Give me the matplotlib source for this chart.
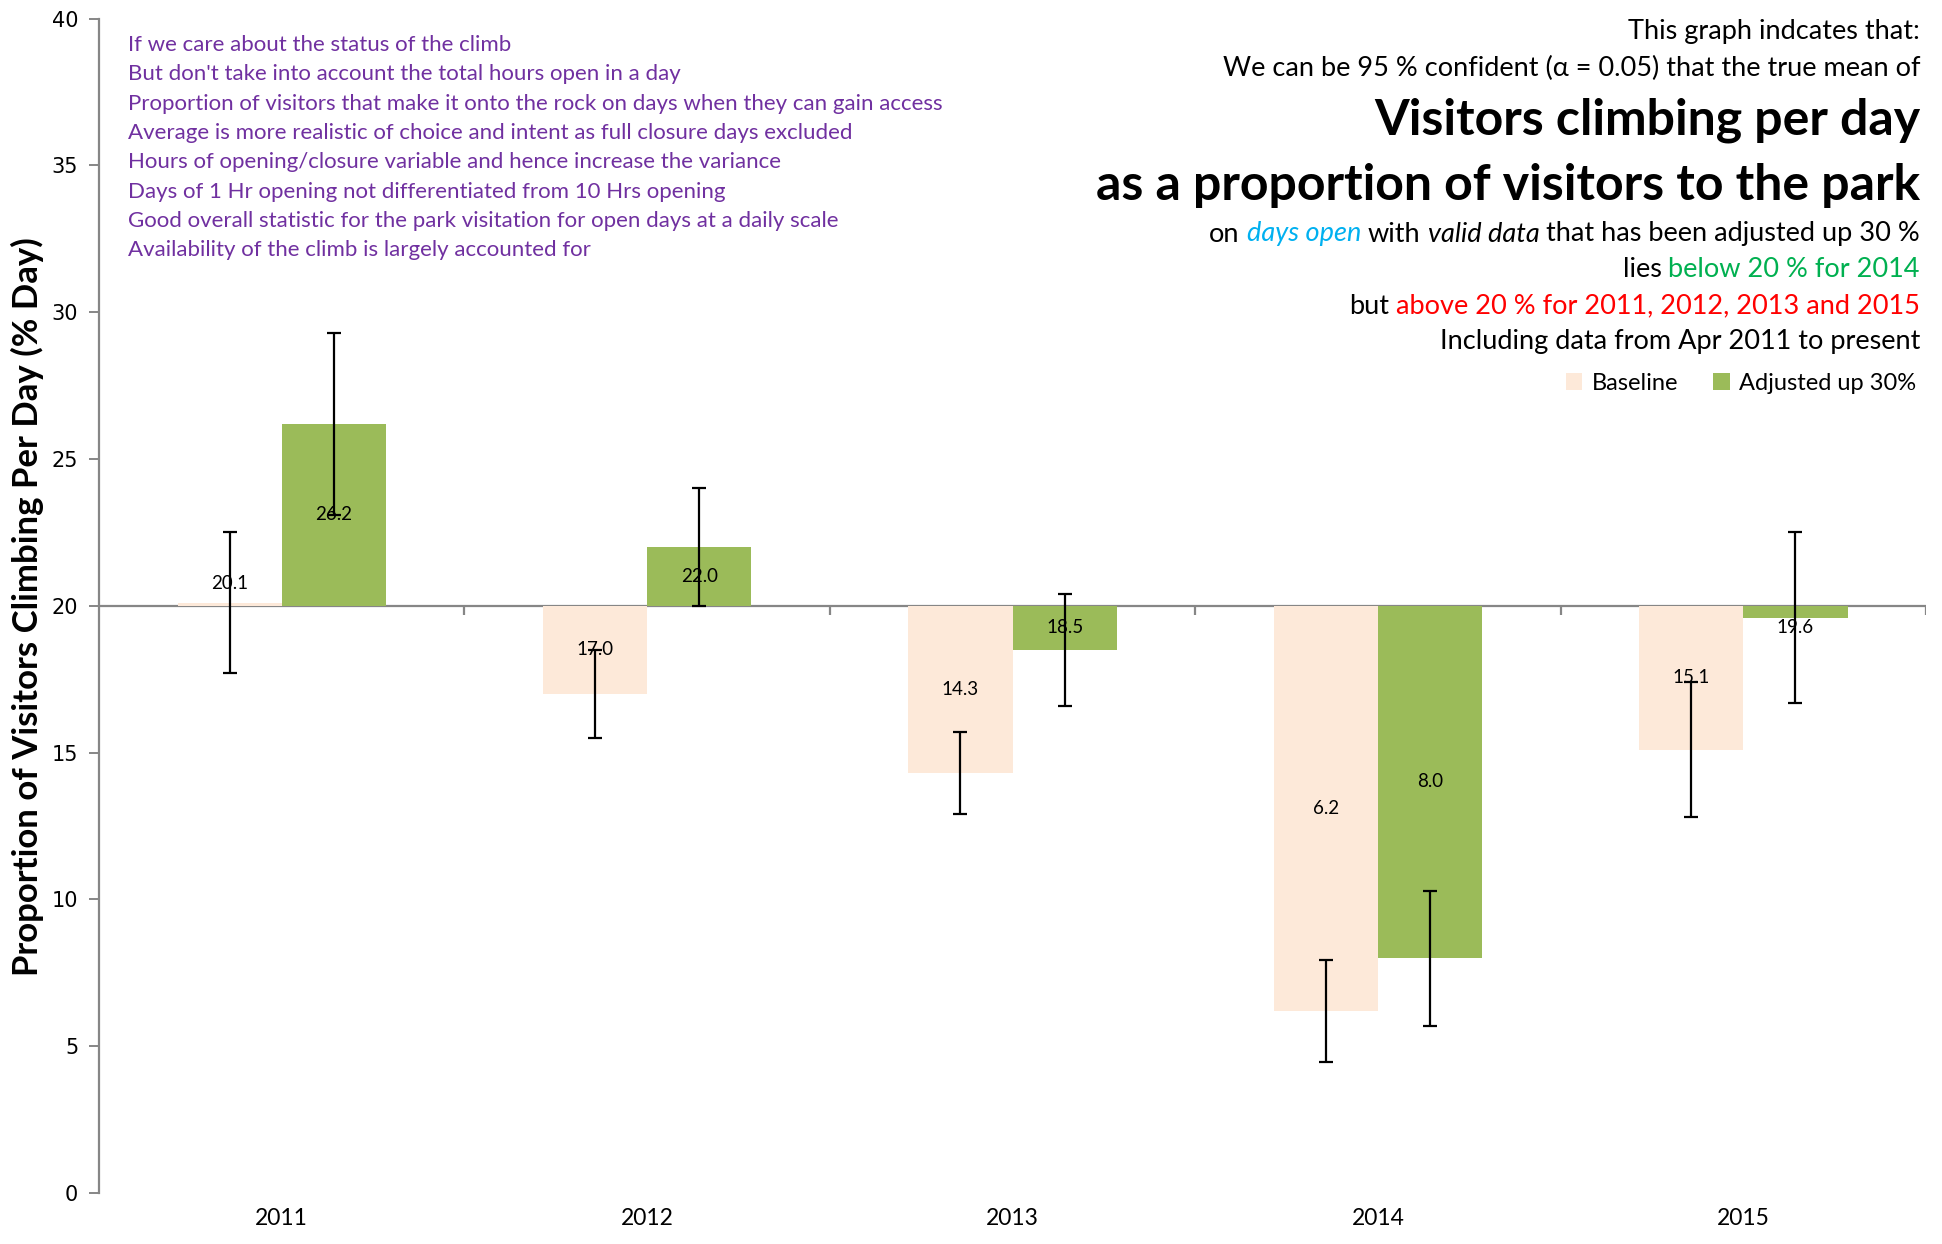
"""Visitors climbing per day as a proportion of park visitors, by year."""

import matplotlib
import matplotlib.pyplot as plt
import numpy as np
from matplotlib.offsetbox import AnnotationBbox, HPacker, TextArea

matplotlib.use("Agg")

years = ["2011", "2012", "2013", "2014", "2015"]
baseline = [20.1, 17.0, 14.3, 6.2, 15.1]
baseline_err = [2.4, 1.5, 1.4, 1.75, 2.3]
adjusted = [26.2, 22.0, 18.5, 8.0, 19.6]
adjusted_err = [3.1, 2.0, 1.9, 2.3, 2.9]
reference_level = 20
series_names = ["Baseline", "Adjusted up 30%"]

notes = [
    "If we care about the status of the climb",
    "But don't take into account the total hours open in a day",
    "Proportion of visitors that make it onto the rock on days when they can gain access",
    "Average is more realistic of choice and intent as full closure days excluded",
    "Hours of opening/closure variable and hence increase the variance",
    "Days of 1 Hr opening not differentiated from 10 Hrs opening",
    "Good overall statistic for the park visitation for open days at a daily scale",
    "Availability of the climb is largely accounted for",
]

FONT = ["Lato", "DejaVu Sans"]
plt.rcParams["font.family"] = FONT

PEACH = "#FDE9D9"
GREEN = "#9BBB59"
GREY = "#868686"
PURPLE = "#7030A0"

fig = plt.figure(figsize=(19.42, 12.44), dpi=100)
ax = fig.add_axes([0.051, 0.041, 0.9408, 0.944])

x = np.arange(len(years))
width = 0.285

for offset, vals, errs, color, name in [
    (-width / 2, baseline, baseline_err, PEACH, series_names[0]),
    (width / 2, adjusted, adjusted_err, GREEN, series_names[1]),
]:
    vals = np.array(vals)
    ax.bar(x + offset, vals - reference_level, width, bottom=reference_level,
           color=color, label=name, zorder=2)
    # etiquettes au centre de la barre, decalees si la barre est trop courte
    for xi, v in zip(x + offset, vals):
        d = v - reference_level
        ly = reference_level + np.sign(d) * max(abs(d) / 2, 0.75)
        ax.text(xi, ly, f"{v:.1f}", ha="center", va="center", fontsize=13.5,
                color="black", zorder=3)
    ax.errorbar(x + offset, vals, yerr=errs, fmt="none", ecolor="black",
                elinewidth=1.6, capsize=5, capthick=1.6, zorder=4)

# axe horizontal qui croise a 20
ax.axhline(reference_level, color=GREY, lw=1.6, zorder=1)
ax.vlines(x + 0.5, reference_level - 0.32, reference_level, color=GREY, lw=1.6)

ax.set_xlim(-0.5, len(years) - 0.5)
ax.set_ylim(0, 40)
ax.set_yticks(np.arange(0, 41, 5))
ax.set_xticks(x)
ax.set_xticklabels(years, fontsize=16.5)
ax.tick_params(axis="x", length=0, pad=11)
ax.tick_params(axis="y", length=7, width=1.4, color=GREY, pad=8)
for lab in ax.get_yticklabels():
    lab.set_fontfamily("DejaVu Sans")
    lab.set_fontsize(15)
for side in ["top", "right", "bottom"]:
    ax.spines[side].set_visible(False)
ax.spines["left"].set_color(GREY)
ax.spines["left"].set_linewidth(1.6)

fig.text(0.014, 0.512, "Proportion of Visitors Climbing Per Day (% Day)",
         rotation=90, ha="center", va="center", fontsize=25, fontweight="bold")

# notes en violet
for i, line in enumerate(notes):
    fig.text(128 / 1942, 1 - (45 + i * 29.3) / 1244, line, color=PURPLE,
             fontsize=16, ha="left", va="center")


def right_line(y_px, parts, size, sep=5):
    """Ligne alignee a droite composee de morceaux de styles differents."""
    boxes = []
    for text, props in parts:
        tp = {"fontsize": size, "color": "black", "fontfamily": FONT}
        tp.update(props)
        boxes.append(TextArea(text, textprops=tp))
    pack = HPacker(children=boxes, align="baseline", pad=0, sep=sep)
    ab = AnnotationBbox(pack, (1920 / 1942, 1 - y_px / 1244), xycoords="figure fraction",
                        box_alignment=(1, 0.5), frameon=False, pad=0)
    fig.add_artist(ab)


right_line(32, [("This graph indcates that:", {})], 19.5)
right_line(68, [("We can be 95 % confident (\u03b1 = 0.05) that the true mean of", {})], 19.5)
right_line(120, [("Visitors climbing per day", {"fontweight": "bold"})], 36)
right_line(185, [("as a proportion of visitors to the park", {"fontweight": "bold"})], 36)
right_line(234, [
    ("on", {}),
    ("days open", {"style": "italic", "color": "#00B0F0"}),
    ("with", {}),
    ("valid data", {"style": "italic"}),
    ("that has been adjusted up 30 %", {}),
], 19.5)
right_line(270, [("lies", {}), ("below 20 % for 2014", {"color": "#00B050"})], 19.5)
right_line(306, [("but", {}), ("above 20 % for 2011, 2012, 2013 and 2015", {"color": "#FF0000"})], 19.5)
right_line(342, [("Including data from Apr 2011 to present", {})], 19.5)

fig.legend(loc="center right", bbox_to_anchor=(1926 / 1942, 1 - 383 / 1244), ncol=2,
           frameon=False, fontsize=17, handlelength=0.7, handleheight=0.7,
           handletextpad=0.4, columnspacing=1.5, borderaxespad=0)

fig.savefig("out.png", dpi=100)
plt.close(fig)
